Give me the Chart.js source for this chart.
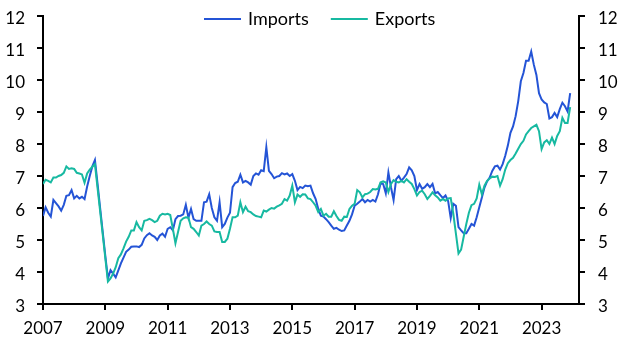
<!DOCTYPE html>
<html>
<head>
<meta charset="utf-8">
<script src="https://cdn.jsdelivr.net/npm/chart.js@4.4.1/dist/chart.umd.min.js"></script>
<style>
  html, body { margin: 0; padding: 0; background: #fff; }
</style>
</head>
<body>
<canvas id="tradeChart" width="630" height="354"></canvas>
<script>
// ========== DATA ==========
// monthly values, Jan 2007 to Dec 2023
const startYear = 2007;
const yearTicks = [2007, 2009, 2011, 2013, 2015, 2017, 2019, 2021, 2023];
const valueTicks = [3, 4, 5, 6, 7, 8, 9, 10, 11, 12];

const importsData = [
    5.75, 6.02, 5.85, 5.73, 6.25, 6.15, 6.05, 5.92, 6.1, 6.38, 6.4, 6.56,     // 2007
    6.3, 6.38, 6.3, 6.35, 6.28, 6.67, 7.0, 7.3, 7.5, 6.76, 6.0, 5.25,         // 2008
    4.5, 3.8, 4.06, 3.95, 3.83, 4.05, 4.27, 4.45, 4.63, 4.7, 4.79, 4.8,       // 2009
    4.8, 4.78, 4.85, 5.05, 5.15, 5.21, 5.14, 5.1, 5.0, 5.14, 5.2, 5.1,        // 2010
    5.35, 5.4, 5.3, 5.65, 5.75, 5.76, 5.8, 6.1, 5.7, 5.97, 5.65, 5.6,         // 2011
    5.6, 5.6, 6.18, 6.2, 6.43, 6.0, 5.71, 5.6, 6.18, 5.4, 5.5, 5.7,           // 2012
    5.85, 6.65, 6.78, 6.82, 7.04, 6.8, 6.85, 6.8, 6.73, 7.0, 7.08, 7.04,      // 2013
    7.18, 7.15, 7.9, 7.16, 7.06, 6.93, 6.98, 7.0, 7.09, 7.05, 7.08, 7.0,      // 2014
    7.06, 6.85, 6.56, 6.66, 6.62, 6.7, 6.68, 6.7, 6.46, 6.28, 5.97, 5.76,     // 2015
    5.73, 5.65, 5.56, 5.45, 5.35, 5.38, 5.32, 5.28, 5.3, 5.45, 5.6, 5.8,      // 2016
    6.07, 6.13, 6.2, 6.28, 6.18, 6.25, 6.2, 6.25, 6.2, 6.43, 6.77, 6.75,      // 2017
    6.46, 7.11, 6.65, 6.25, 6.9, 7.0, 6.85, 6.95, 7.06, 7.27, 7.18, 7.0,      // 2018
    6.56, 6.75, 6.6, 6.65, 6.75, 6.65, 6.75, 6.46, 6.5, 6.4, 6.31, 6.39,      // 2019
    6.22, 5.69, 6.13, 6.07, 5.4, 5.3, 5.21, 5.21, 5.35, 5.5, 5.45, 5.71,      // 2020
    6.02, 6.33, 6.64, 6.83, 6.95, 7.16, 7.3, 7.32, 7.2, 7.37, 7.63, 7.95,     // 2021
    8.35, 8.55, 8.87, 9.34, 9.96, 10.22, 10.6, 10.6, 10.89, 10.48, 10.16, 9.59, // 2022
    9.39, 9.3, 9.25, 8.8, 8.84, 8.97, 8.84, 9.09, 9.29, 9.18, 9.02, 9.59      // 2023
];

const exportsData = [
    6.75, 6.88, 6.85, 6.8, 6.95, 6.95, 7.0, 7.03, 7.1, 7.3, 7.22, 7.24,       // 2007
    7.22, 7.1, 7.08, 7.05, 6.79, 7.08, 7.2, 7.29, 7.37, 6.63, 5.9, 5.17,      // 2008
    4.43, 3.7, 3.8, 3.95, 4.15, 4.43, 4.55, 4.74, 4.95, 5.1, 5.3, 5.3,        // 2009
    5.56, 5.4, 5.3, 5.6, 5.62, 5.66, 5.62, 5.56, 5.6, 5.76, 5.82, 5.8,        // 2010
    5.82, 5.78, 5.35, 4.9, 5.25, 5.6, 5.68, 5.71, 5.7, 5.4, 5.35, 5.25,       // 2011
    5.14, 5.45, 5.5, 5.58, 5.5, 5.45, 5.27, 5.25, 5.25, 4.94, 4.94, 5.04,     // 2012
    5.35, 5.71, 5.71, 5.76, 6.18, 5.87, 6.04, 5.9, 5.87, 5.8, 5.75, 5.73,     // 2013
    5.71, 5.92, 5.89, 5.95, 6.0, 5.98, 6.04, 6.08, 6.13, 6.28, 6.23, 6.39,    // 2014
    6.7, 6.18, 6.42, 6.35, 6.43, 6.42, 6.3, 6.28, 6.18, 6.07, 5.87, 5.97,     // 2015
    5.76, 5.82, 5.73, 5.73, 5.9, 5.75, 5.63, 5.6, 5.73, 5.72, 5.97, 6.07,     // 2016
    6.13, 6.56, 6.49, 6.33, 6.43, 6.45, 6.5, 6.59, 6.58, 6.6, 6.8, 6.83,      // 2017
    6.8, 6.5, 6.75, 6.87, 6.82, 6.8, 6.85, 6.8, 6.9, 6.82, 6.75, 6.59,        // 2018
    6.39, 6.5, 6.54, 6.43, 6.28, 6.38, 6.49, 6.4, 6.33, 6.23, 6.28, 6.23,     // 2019
    6.3, 6.31, 5.82, 5.2, 4.58, 4.7, 5.1, 5.5, 5.85, 6.09, 6.13, 6.3,         // 2020
    6.73, 6.43, 6.7, 6.85, 6.92, 6.98, 6.97, 7.0, 6.7, 6.9, 7.2, 7.4,         // 2021
    7.5, 7.57, 7.7, 7.85, 8.0, 8.1, 8.3, 8.4, 8.5, 8.55, 8.6, 8.4,            // 2022
    7.84, 8.05, 8.12, 8.0, 8.2, 8.0, 8.25, 8.4, 8.82, 8.66, 8.66, 9.15        // 2023
];

// ========== SETUP ==========
const FONT = "Lato, 'Open Sans', sans-serif";
Chart.defaults.font.family = FONT;
Chart.defaults.font.size = 17;
Chart.defaults.color = '#000';

function toPoints(values) {
    return values.map((v, i) => ({ x: startYear + i / 12, y: v }));
}

function setTicks(list) {
    return scale => { scale.ticks = list.map(v => ({ value: v })); };
}

// fixed axis widths, and no extra room reserved for the end labels
function fitWidth(w) {
    return scale => {
        scale.width = w;
        scale.paddingTop = 0;
        scale.paddingBottom = 0;
    };
}

const axisGrid = { drawOnChartArea: false, drawTicks: true, tickLength: 6, color: '#000', lineWidth: 2 };
const axisBorder = { color: '#000', width: 2 };

// legend sits inside the plot, so draw it by hand
const topLegend = {
    id: 'topLegend',
    afterDraw(chart) {
        const ctx = chart.ctx;
        ctx.save();
        ctx.font = '18px ' + FONT;
        ctx.textBaseline = 'middle';
        let x = 204;
        const y = 19;
        chart.data.datasets.forEach(ds => {
            ctx.strokeStyle = ds.borderColor;
            ctx.lineWidth = 2;
            ctx.beginPath();
            ctx.moveTo(x, y);
            ctx.lineTo(x + 37, y);
            ctx.stroke();
            x += 44;
            ctx.fillStyle = '#000';
            ctx.fillText(ds.label, x, y);
            x += ctx.measureText(ds.label).width + 22;
        });
        ctx.restore();
    }
};

new Chart(document.getElementById('tradeChart'), {
    type: 'line',
    data: {
        datasets: [
            {
                label: 'Imports',
                data: toPoints(importsData),
                borderColor: '#2454d6',
                borderWidth: 2,
                pointRadius: 0,
                tension: 0,
                order: 2
            },
            {
                label: 'Exports',
                data: toPoints(exportsData),
                borderColor: '#17b9a1',
                borderWidth: 2,
                pointRadius: 0,
                tension: 0,
                order: 1
            }
        ]
    },
    options: {
        responsive: false,
        animation: false,
        devicePixelRatio: 1,
        layout: { padding: { top: 16, left: 0, right: 0, bottom: 0 } },
        plugins: { legend: { display: false }, tooltip: { enabled: false } },
        scales: {
            x: {
                type: 'linear',
                min: 2007,
                max: 2024.2,
                afterBuildTicks: setTicks(yearTicks),
                afterFit: s => { s.height = 50; },
                grid: axisGrid,
                border: axisBorder,
                ticks: { padding: 8, maxRotation: 0, autoSkip: false, callback: v => String(v) }
            },
            y: {
                position: 'left',
                min: 3,
                max: 12,
                afterBuildTicks: setTicks(valueTicks),
                afterFit: fitWidth(43),
                grid: axisGrid,
                border: axisBorder,
                ticks: { padding: 12, labelOffset: 3 }
            },
            y2: {
                position: 'right',
                min: 3,
                max: 12,
                afterBuildTicks: setTicks(valueTicks),
                afterFit: fitWidth(51),
                grid: axisGrid,
                border: axisBorder,
                ticks: { padding: 13, labelOffset: 3 }
            }
        }
    },
    plugins: [topLegend]
});
</script>
</body>
</html>
